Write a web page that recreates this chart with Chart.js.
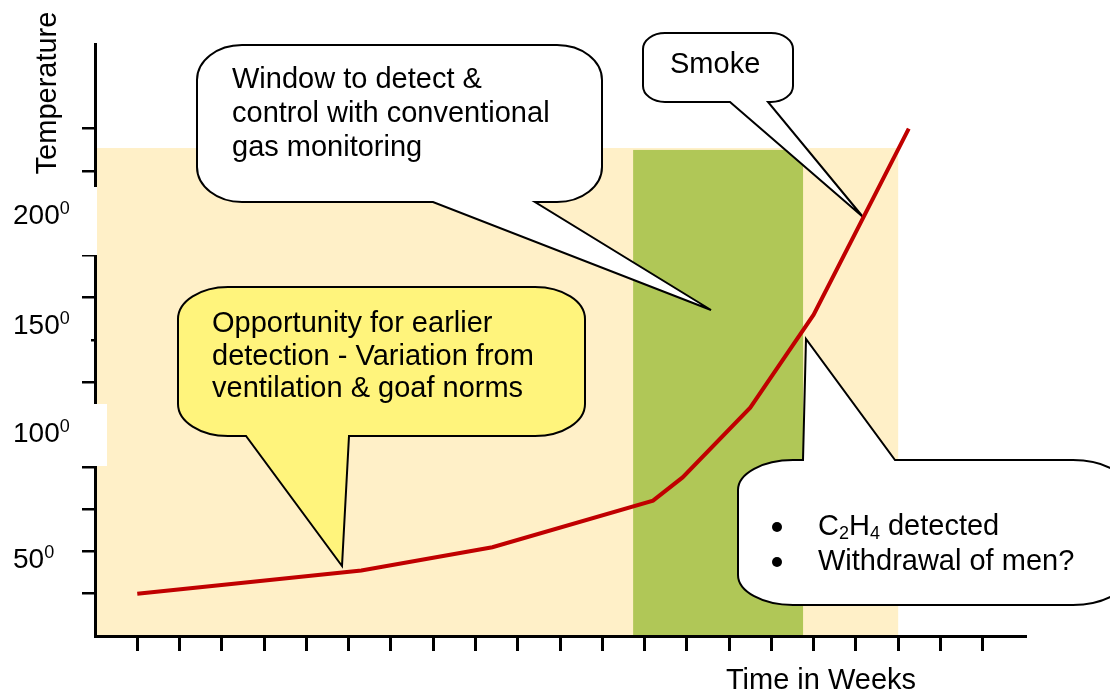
<!DOCTYPE html>
<html>
<head>
<meta charset="utf-8">
<script src="https://cdn.jsdelivr.net/npm/chart.js"></script>
<style>
body { margin: 0; background: #fff; }
#wrap { width: 1110px; height: 695px; position: relative; }
</style>
</head>
<body>
<div id="wrap"><canvas id="mycanvas"></canvas></div>
<script>
// temperature curve (x = weeks, y = degrees)
var weeks = [1, 6.3, 9.4, 13.2, 13.9, 15.5, 17, 19.25];
var temperature = [30, 41, 52, 74, 85, 118, 162, 250];

// tick marks on both axes
var xTicks = [1, 2, 3, 4, 5, 6, 7, 8, 9, 10, 11, 12, 13, 14, 15, 16, 17, 18, 19, 20, 21];
var yTicks = [30, 50, 70, 90, 110, 130, 150, 170, 190, 210, 230, 250];

// axis labels (they sit a bit off the tick grid in the original)
var yLabels = ['50', '100', '150', '200'];
var yLabelAt = [47, 106.5, 157.5, 209.5];

// shaded periods: whole danger period and the gas monitoring window
var bandStart = [0, 12.73];
var bandEnd = [19, 16.75];
var bandTop = [240.8, 239.9];
var bandColor = ['#FFF0C8', '#B0C757'];

var FONT = '"Liberation Sans", Arial, sans-serif';

var callouts = [
    { x1: 197, y1: 45, x2: 602, y2: 202, rx: 45, ry: 35, side: 'bottom', a: 433, b: 535, tip: [711, 310],
      fill: '#ffffff', tx: 232, ty: 88, lh: 34,
      lines: [[['Window to detect &', 0]], [['control with conventional', 0]], [['gas monitoring', 0]]] },
    { x1: 643, y1: 33, x2: 793, y2: 102, rx: 22, ry: 16, side: 'bottom', a: 730, b: 768, tip: [863, 217],
      fill: '#ffffff', tx: 670, ty: 73, lh: 0,
      lines: [[['Smoke', 0]]] },
    { x1: 178, y1: 287, x2: 585, y2: 436, rx: 50, ry: 32, side: 'bottom', a: 246, b: 349, tip: [342, 566],
      fill: '#FFF47C', tx: 212, ty: 332, lh: 32.5,
      lines: [[['Opportunity for earlier', 0]], [['detection - Variation from', 0]], [['ventilation & goaf norms', 0]]] },
    { x1: 738, y1: 460, x2: 1128, y2: 605, rx: 55, ry: 30, side: 'top', a: 803, b: 895, tip: [806, 339],
      fill: '#ffffff', tx: 818, ty: 535, lh: 35, bullet: 777,
      lines: [[['C', 0], ['2', 1], ['H', 0], ['4', 1], [' detected', 0]], [['Withdrawal of men?', 0]]] }
];

function drawRich(ctx, segs, x, y, size)
{
    ctx.textAlign = 'left';
    ctx.textBaseline = 'alphabetic';
    for (var i = 0; i < segs.length; i++) {
        var t = segs[i][0], kind = segs[i][1];
        var s = size, dy = 0;
        if (kind === 1) { s = Math.round(size * 0.62); dy = 4; }
        if (kind === 2) { s = Math.round(size * 0.66); dy = -10; }
        ctx.font = s + 'px ' + FONT;
        ctx.fillText(t, x, y + dy);
        x += ctx.measureText(t).width;
    }
}

function bubble(ctx, c)
{
    var k = 0.5523;
    var x1 = c.x1, y1 = c.y1, x2 = c.x2, y2 = c.y2, rx = c.rx, ry = c.ry;
    ctx.beginPath();
    ctx.moveTo(x1 + rx, y1);
    if (c.side === 'top') {
        ctx.lineTo(c.a, y1);
        ctx.lineTo(c.tip[0], c.tip[1]);
        ctx.lineTo(c.b, y1);
    }
    ctx.lineTo(x2 - rx, y1);
    ctx.bezierCurveTo(x2 - rx + rx * k, y1, x2, y1 + ry - ry * k, x2, y1 + ry);
    ctx.lineTo(x2, y2 - ry);
    ctx.bezierCurveTo(x2, y2 - ry + ry * k, x2 - rx + rx * k, y2, x2 - rx, y2);
    if (c.side === 'bottom') {
        ctx.lineTo(c.b, y2);
        ctx.lineTo(c.tip[0], c.tip[1]);
        ctx.lineTo(c.a, y2);
    }
    ctx.lineTo(x1 + rx, y2);
    ctx.bezierCurveTo(x1 + rx - rx * k, y2, x1, y2 - ry + ry * k, x1, y2 - ry);
    ctx.lineTo(x1, y1 + ry);
    ctx.bezierCurveTo(x1, y1 + ry - ry * k, x1 + rx - rx * k, y1, x1 + rx, y1);
    ctx.closePath();
    ctx.fillStyle = c.fill;
    ctx.fill();
    ctx.lineWidth = 2;
    ctx.lineJoin = 'miter';
    ctx.strokeStyle = '#000';
    ctx.stroke();

    ctx.fillStyle = '#000';
    for (var i = 0; i < c.lines.length; i++) {
        var y = c.ty + i * c.lh;
        drawRich(ctx, c.lines[i], c.tx, y, 29);
        if (c.bullet) {
            ctx.beginPath();
            ctx.arc(c.bullet, y - 8, 5, 0, Math.PI * 2);
            ctx.fill();
        }
    }
}

var decor = {
    id: 'decor',
    beforeDraw: function (chart) {
        var ctx = chart.ctx, xs = chart.scales.x, ys = chart.scales.y;
        ctx.save();
        for (var i = 0; i < bandStart.length; i++) {
            var l = xs.getPixelForValue(bandStart[i]);
            var r = xs.getPixelForValue(bandEnd[i]);
            var t = ys.getPixelForValue(bandTop[i]);
            ctx.fillStyle = bandColor[i];
            ctx.fillRect(l, t, r - l, chart.chartArea.bottom - t);
        }
        ctx.restore();
    },
    beforeDatasetsDraw: function (chart) {
        var ctx = chart.ctx, ys = chart.scales.y;
        ctx.save();
        // white label backgrounds that cut the axis
        ctx.fillStyle = '#fff';
        ctx.fillRect(0, 187, 97, 68);
        ctx.fillRect(0, 404, 107, 62);
        ctx.fillRect(0, 305, 91, 50);

        ctx.fillStyle = '#000';
        for (var i = 0; i < yLabels.length; i++) {
            var py = ys.getPixelForValue(yLabelAt[i]);
            drawRich(ctx, [[yLabels[i], 0], ['0', 2]], 13, py + 10, 28);
        }

        for (var j = 0; j < callouts.length; j++) {
            bubble(ctx, callouts[j]);
        }

        ctx.fillStyle = '#000';
        ctx.font = '29px ' + FONT;
        ctx.textAlign = 'center';
        ctx.textBaseline = 'alphabetic';
        ctx.fillText('Time in Weeks', 821, 689);
        ctx.translate(56, 93);
        ctx.rotate(-Math.PI / 2);
        ctx.fillText('Temperature', 0, 0);
        ctx.restore();
    }
};

function showGraph()
{
    var points = [];
    for (var i in weeks) {
        points.push({ x: weeks[i], y: temperature[i] });
    }

    var chartdata = {
        datasets: [
            {
                label: 'Temperature',
                data: points,
                borderColor: '#C00000',
                borderWidth: 4,
                pointRadius: 0,
                tension: 0,
                fill: false
            }
        ]
    };

    var ctx = document.getElementById('mycanvas');
    var mycanvas = new Chart(ctx, {
        type: 'line',
        data: chartdata,
        plugins: [decor],
        options: {
            responsive: true,
            maintainAspectRatio: false,
            animation: false,
            layout: { padding: { left: 95, right: 85, top: 44, bottom: 59 } },
            plugins: { legend: { display: false }, tooltip: { enabled: false } },
            scales: {
                x: {
                    type: 'linear',
                    min: 0,
                    max: 22,
                    afterBuildTicks: function (s) { s.ticks = xTicks.map(function (v) { return { value: v }; }); },
                    afterFit: function (s) { s.height = 0; },
                    ticks: { display: false },
                    grid: { drawOnChartArea: false, drawTicks: true, tickLength: 15, lineWidth: 3, color: '#000' },
                    border: { display: true, color: '#000', width: 3 }
                },
                y: {
                    type: 'linear',
                    min: 10,
                    max: 290,
                    afterBuildTicks: function (s) { s.ticks = yTicks.map(function (v) { return { value: v }; }); },
                    afterFit: function (s) { s.width = 0; },
                    ticks: { display: false },
                    grid: { drawOnChartArea: false, drawTicks: true, tickLength: 13, lineWidth: 2.5, color: '#000' },
                    border: { display: true, color: '#000', width: 3 }
                }
            }
        }
    });
}

showGraph();
</script>
</body>
</html>
